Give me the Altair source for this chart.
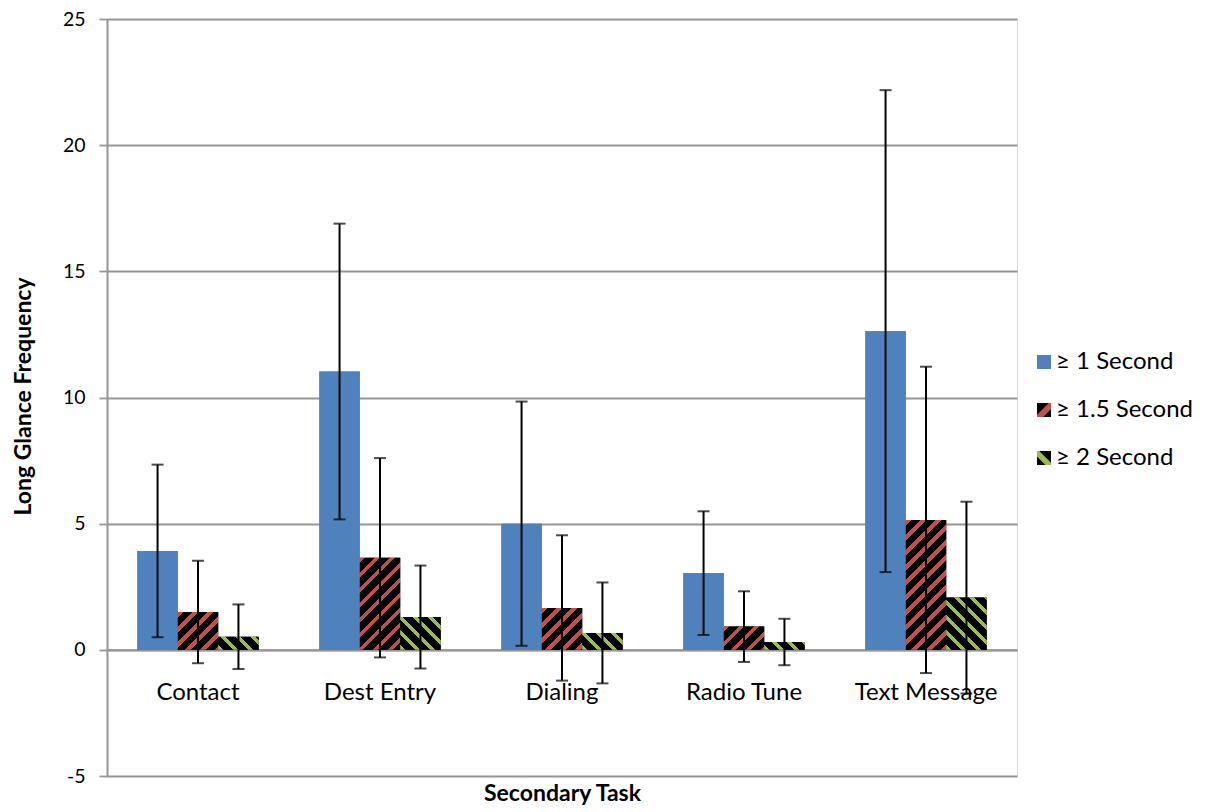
import altair as alt

# ---------------- data ----------------
tasks = ["Contact", "Dest Entry", "Dialing", "Radio Tune", "Text Message"]
series = ["≥ 1 Second", "≥ 1.5 Second", "\u00a0≥ 2 Second"]

mean_1s = [3.92, 11.03, 5.00, 3.04, 12.63]
sd_1s = [3.42, 5.86, 4.84, 2.45, 9.55]
mean_15s = [1.50, 3.65, 1.66, 0.92, 5.15]
sd_15s = [2.03, 3.95, 2.88, 1.40, 6.07]
mean_2s = [0.52, 1.30, 0.67, 0.31, 2.07]
sd_2s = [1.28, 2.04, 2.00, 0.92, 3.80]

y_ticks = [-5, 0, 5, 10, 15, 20, 25]

# ---------------- styles ----------------
BLUE = "#4F81BD"
RED = "#C0504D"
GREEN = "#9BBB59"
GRID = "#959595"
FONT = "Lato"

PLOT_W, PLOT_H = 910, 757
Y_MIN, Y_MAX = -5, 25
PX_PER_UNIT = PLOT_H / (Y_MAX - Y_MIN)
BAR_W = PLOT_W / len(tasks) * (2 / 3) / 3
PERIOD = 15.0

# legend stripe glyphs (unit-square symbol paths)
STRIPE_UP = "M-1,0.68L0.68,-1L1,-1L1,-0.12L-0.12,1L-1,1Z"
STRIPE_DOWN = "M-1,-0.2L-1,-1L-0.68,-1L1,0.68L1,1L0.2,1Z"


def stripe_gradient(height_px, color, direction, frac):
    """Diagonal stripe fill (Excel-like pattern) built as a hard-stop gradient."""
    w = BAR_W
    h = max(height_px, 1.0)
    span = w + h
    k = span / (w * w + h * h)
    a, b = w * k, h * k
    stops = []
    i = 0
    while i * PERIOD < span + PERIOD:
        s0 = i * PERIOD
        s1 = s0 + frac * PERIOD
        s2 = (i + 1) * PERIOD
        for s, c in ((s0, color), (s1, color), (s1, "#000000"), (s2, "#000000")):
            stops.append({"offset": round(min(s / span, 1.0), 5), "color": c})
        i += 1
    if direction == "/":
        return {"gradient": "linear", "x1": 0, "y1": 0, "x2": a, "y2": b, "stops": stops}
    return {"gradient": "linear", "x1": 0, "y1": 1, "x2": a, "y2": 1 - b, "stops": stops}


records = []
for s_name, means, sds in ((series[0], mean_1s, sd_1s),
                           (series[1], mean_15s, sd_15s),
                           (series[2], mean_2s, sd_2s)):
    for t, m, sd in zip(tasks, means, sds):
        hpx = abs(m) * PX_PER_UNIT
        if s_name == series[0]:
            fill = BLUE
        elif s_name == series[1]:
            fill = stripe_gradient(hpx, RED, "/", 0.36)
        else:
            fill = stripe_gradient(hpx, GREEN, "\\", 0.32)
        records.append({"task": t, "series": s_name, "series_key": s_name + "\u200b",
                        "mean": m, "low": round(m - sd, 3), "high": round(m + sd, 3),
                        "pattern": fill})

data = alt.Data(values=records)
series_keys = [s + "\u200b" for s in series]

zero_offset = -(PLOT_H - (Y_MAX - 0) * PX_PER_UNIT)

x_enc = alt.X(
    "task:N", sort=tasks,
    scale=alt.Scale(paddingInner=1 / 3, paddingOuter=1 / 6),
    axis=alt.Axis(
        title="Secondary Task", labelAngle=0, ticks=False,
        offset=zero_offset, domainColor=GRID, domainWidth=2,
        labelFont=FONT, labelFontSize=24, labelColor="#000000", labelPadding=31,
        titleFont=FONT, titleFontSize=23, titleFontWeight="bold", titleColor="#000000",
        titleY=144, titleBaseline="middle",
    ),
)
xoff_enc = alt.XOffset("series:N", sort=series,
                       scale=alt.Scale(paddingInner=0, paddingOuter=0))
y_scale = alt.Scale(domain=[Y_MIN, Y_MAX], nice=False, zero=False)

LEG_X, LEG_Y, ROW_PAD, LEG_FS, LEG_OFF = 925, 331, 24, 24, 0

base = alt.Chart(data).encode(x=x_enc, xOffset=xoff_enc)

bars = base.mark_bar().encode(
    y=alt.Y(
        "mean:Q", scale=y_scale,
        axis=alt.Axis(
            values=y_ticks, grid=True, gridColor=GRID, gridWidth=1.8,
            domainColor=GRID, domainWidth=2, tickColor=GRID, tickWidth=1.8, tickSize=8,
            labelFont=FONT, labelFontSize=19.5, labelColor="#000000", labelPadding=14,
            labelExpr="datum.value < 0 ? '-' + abs(datum.value) : datum.label",
            title="Long Glance Frequency", titleFont=FONT, titleFontSize=23,
            titleFontWeight="bold", titleColor="#000000",
            titleX=-84, titleY=377, titleBaseline="middle", titleAlign="center",
        ),
    ),
    color=alt.Color(
        "series:N", sort=series,
        scale=alt.Scale(domain=series, range=[BLUE, "#000000", "#000000"]),
        legend=alt.Legend(
            title=None, orient="none", legendX=LEG_X, legendY=LEG_Y,
            symbolType="square", symbolSize=196, symbolStrokeWidth=0,
            labelFont=FONT, labelFontSize=LEG_FS, labelColor="#000000",
            labelOffset=LEG_OFF, rowPadding=ROW_PAD, padding=0, zindex=0,
        ),
    ),
)

patterned = base.mark_bar().encode(
    y=alt.Y("mean:Q", scale=y_scale),
    fill=alt.Fill("pattern:N", scale=None, legend=None),
)

glyph_legend = alt.Legend(
    title=None, orient="none", legendX=LEG_X, legendY=LEG_Y,
    symbolSize=196, symbolStrokeWidth=0, symbolOpacity=1,
    labelFont=FONT, labelFontSize=LEG_FS, labelOpacity=0,
    labelOffset=LEG_OFF, rowPadding=ROW_PAD, padding=0, zindex=1,
)

# invisible layer that only provides the striped legend glyphs on top of the squares
legend_glyphs = base.mark_point(filled=True, opacity=0, size=1).encode(
    y=alt.Y("mean:Q", scale=y_scale),
    fill=alt.Fill(
        "series_key:N", sort=series_keys,
        scale=alt.Scale(domain=series_keys, range=[BLUE, RED, GREEN]),
        legend=glyph_legend,
    ),
    shape=alt.Shape(
        "series_key:N", sort=series_keys,
        scale=alt.Scale(domain=series_keys, range=["square", STRIPE_UP, STRIPE_DOWN]),
        legend=glyph_legend,
    ),
)

err_rule = base.mark_rule(color="#000000", strokeWidth=2).encode(
    y=alt.Y("low:Q", scale=y_scale),
    y2="high:Q",
)

err_caps = base.transform_fold(["low", "high"], as_=["end", "val"]).mark_tick(
    color="#000000", thickness=2, size=12
).encode(y=alt.Y("val:Q", scale=y_scale))

chart = alt.layer(bars, patterned, legend_glyphs, err_rule, err_caps).resolve_scale(
    fill="independent", shape="independent"
).properties(
    width=PLOT_W, height=PLOT_H,
    autosize=alt.AutoSizeParams(type="none"),
    padding={"left": 99, "top": 11, "right": 185, "bottom": 30},
).configure_view(stroke="transparent").configure(background="#ffffff")

chart.save("out.html", embed_options={"renderer": "svg", "actions": False})
